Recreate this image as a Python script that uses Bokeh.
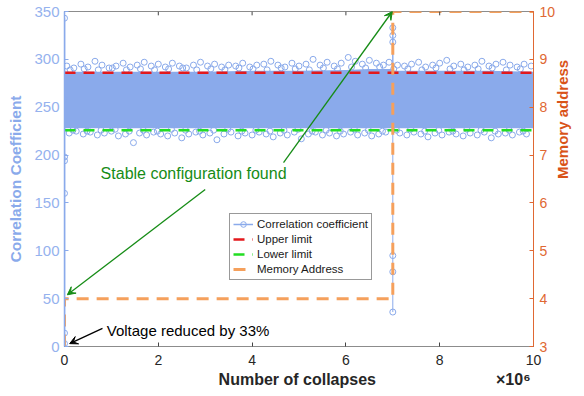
import math
from bokeh.plotting import figure
from bokeh.models import (Range1d, LinearAxis, FixedTicker, Label, Arrow, VeeHead,
                          Legend, LegendItem)
from bokeh.embed import file_html
from bokeh.resources import INLINE

# ---------------- data (x in units of 10^6 collapses) ----------------
x_ticks = [0, 2, 4, 6, 8, 10]
corr_ticks = [0, 50, 100, 150, 200, 250, 300, 350]
mem_ticks = [3, 4, 5, 6, 7, 8, 9, 10]
x_title = "Number of collapses"
x_exponent = "×10⁶"

# dense band of the correlation coefficient (envelope of the oscillation)
band_x = [0, 1, 2, 3, 4, 5, 6, 6.5, 6.95, 7.05, 8, 9, 10]
band_hi = [287, 287, 287, 287, 288, 288, 289, 290, 290, 288, 288, 288, 287]
band_lo = [228, 228, 228, 228, 228, 228, 228, 228, 228, 228, 228, 228, 228]

# outlying circles along the upper edge
top_x = [0.05, 0.2, 0.35, 0.5, 0.65, 0.8, 0.95, 1.1, 1.25, 1.4, 1.55, 1.7, 1.85, 2.0,
         2.15, 2.3, 2.45, 2.6, 2.75, 2.9, 3.05, 3.2, 3.35, 3.5, 3.65, 3.8, 3.95, 4.1,
         4.25, 4.4, 4.55, 4.7, 4.85, 5.0, 5.15, 5.3, 5.45, 5.6, 5.75, 5.9, 6.05, 6.2,
         6.35, 6.5, 6.65, 6.8, 6.92, 7.1, 7.25, 7.4, 7.55, 7.7, 7.85, 8.0, 8.15, 8.3,
         8.45, 8.6, 8.75, 8.9, 9.05, 9.2, 9.35, 9.5, 9.65, 9.8, 9.95]
top_y = [293, 291, 295, 292, 298, 294, 291, 293, 296, 292, 294, 297, 293, 295,
         292, 296, 293, 291, 294, 297, 293, 295, 292, 294, 293, 296, 292, 294,
         295, 298, 294, 292, 296, 293, 295, 300, 294, 297, 293, 296, 302, 298,
         295, 299, 296, 294, 297, 294, 293, 295, 297, 292, 294, 296, 299, 293,
         295, 292, 294, 298, 293, 295, 297, 294, 292, 295, 293]
# second, denser row of circles hugging the upper edge
top2_x = [0.12, 0.42, 0.72, 1.02, 1.32, 1.62, 1.92, 2.22, 2.52, 2.82, 3.12, 3.42,
          3.72, 4.02, 4.32, 4.62, 4.92, 5.22, 5.52, 5.82, 6.12, 6.42, 6.72, 7.02,
          7.32, 7.62, 7.92, 8.22, 8.52, 8.82, 9.12, 9.42, 9.72]
top2_y = [289, 290, 289, 291, 289, 290, 289, 290, 291, 289, 290, 289, 291, 290,
          289, 291, 290, 289, 291, 290, 292, 291, 292, 290, 290, 289, 291, 290,
          289, 290, 291, 289, 290]

# outlying circles along the lower edge
bot_x = [0.1, 0.25, 0.4, 0.55, 0.7, 0.85, 1.0, 1.15, 1.3, 1.47, 1.6, 1.75, 1.9, 2.05,
         2.2, 2.35, 2.5, 2.65, 2.8, 2.95, 3.1, 3.25, 3.4, 3.55, 3.7, 3.85, 4.0, 4.15,
         4.3, 4.45, 4.6, 4.75, 4.9, 5.05, 5.2, 5.35, 5.5, 5.65, 5.8, 5.95, 6.1, 6.25,
         6.4, 6.55, 6.7, 6.85, 7.15, 7.3, 7.45, 7.6, 7.75, 7.9, 8.05, 8.2, 8.35, 8.5,
         8.65, 8.8, 8.95, 9.1, 9.25, 9.4, 9.55, 9.7, 9.85]
bot_y = [223, 225, 222, 224, 221, 223, 225, 220, 222, 213, 223, 221, 224, 222,
         220, 223, 218, 222, 224, 221, 223, 216, 222, 224, 220, 223, 221, 224,
         222, 219, 223, 221, 224, 217, 222, 224, 221, 223, 220, 222, 224, 221,
         223, 220, 222, 224, 223, 221, 224, 222, 219, 223, 221, 224, 222, 220,
         223, 221, 224, 218, 222, 223, 221, 224, 222]
bot2_x = [0.18, 0.48, 0.78, 1.08, 1.38, 1.68, 1.98, 2.28, 2.58, 2.88, 3.18, 3.48,
          3.78, 4.08, 4.38, 4.68, 4.98, 5.28, 5.58, 5.88, 6.18, 6.48, 6.78, 7.08,
          7.38, 7.68, 7.98, 8.28, 8.58, 8.88, 9.18, 9.48, 9.78]
bot2_y = [226, 225, 226, 227, 225, 226, 225, 227, 226, 225, 226, 227, 225, 226,
          225, 226, 227, 225, 226, 225, 227, 226, 225, 226, 227, 225, 226, 225,
          227, 226, 225, 226, 225]

# sharp excursions of the correlation coefficient
spike0_x = [0, 0, 0, 0, 0, 0, 0, 0]
spike0_y = [258, 3, 14, 343, 160, 194, 198, 258]
spike7_x = [7, 7, 7, 7, 7, 7, 7]
spike7_y = [270, 333, 325, 318, 95, 78, 36]

upper_limit = 286
lower_limit = 226

mem_x = [0, 0, 7, 7, 10]
mem_y = [3, 4, 4, 10, 10]

# ---------------- styles ----------------
BLUE = "#8AAAEB"
BLUE_TXT = "#95B2EE"
ORANGE = "#F5A05C"
ORANGE_AX = "#E06833"
RED = "#E3191C"
GREEN = "#22DD22"
DGREEN = "#168C16"
FONT = "Liberation Sans"
NBSP = "\u00a0"

p = figure(width=584, height=396, output_backend="svg", toolbar_location=None,
           x_range=Range1d(0, 10), y_range=Range1d(0, 350),
           min_border_left=64, min_border_right=51, min_border_top=11,
           min_border_bottom=50)
p.extra_y_ranges = {"mem": Range1d(3, 10)}
p.xgrid.visible = False
p.ygrid.visible = False
p.outline_line_color = "#8C8C8C"
p.background_fill_color = "white"
p.border_fill_color = "white"

# band + circles
p.varea(x=band_x, y1=band_lo, y2=band_hi, fill_color=BLUE, fill_alpha=1.0)
for xs, ys in ((top_x, top_y), (top2_x, top2_y), (bot_x, bot_y), (bot2_x, bot2_y)):
    p.scatter(xs, ys, marker="circle", size=6, fill_color=None, line_color=BLUE,
              line_width=1)
r_line = p.line(spike0_x, spike0_y, line_color=BLUE, line_width=1.5)
p.line(spike7_x, spike7_y, line_color=BLUE, line_width=1)
r_pts = p.scatter(spike0_x, spike0_y, marker="circle", size=6, fill_color=None,
                  line_color=BLUE, line_width=1)
p.scatter(spike7_x, spike7_y, marker="circle", size=6, fill_color=None,
          line_color=BLUE, line_width=1)

r_up = p.line([0, 10], [upper_limit, upper_limit], line_color=RED, line_width=2.5,
              line_dash="11 8")
r_lo = p.line([0, 10], [lower_limit, lower_limit], line_color=GREEN, line_width=2.5,
              line_dash="11 8")
r_mem = p.line(mem_x, mem_y, y_range_name="mem", line_color=ORANGE, line_width=3,
               line_dash="12 8")

# top-edge ticks (box on, ticks inward)
p.segment(x0=x_ticks, y0=[350] * len(x_ticks), x1=x_ticks, y1=[346] * len(x_ticks),
          line_color="#444444", line_width=1)

# axes
xa = p.xaxis[0]
xa.ticker = FixedTicker(ticks=x_ticks)
# title centred under the frame, exponent pushed to the right end of the same row
xa.axis_label = NBSP * 34 + x_title + NBSP * 27 + x_exponent
xa.axis_label_text_font = FONT
xa.axis_label_text_font_style = "bold"
xa.axis_label_text_font_size = "16px"
xa.axis_label_text_color = "#262626"
xa.axis_label_standoff = 3
xa.major_label_text_font = FONT
xa.major_label_text_font_size = "14px"
xa.major_label_text_color = "#262626"
xa.major_label_standoff = 8
xa.axis_line_color = "#8C8C8C"
xa.major_tick_line_color = "#444444"
xa.major_tick_in = 4
xa.major_tick_out = 0
xa.minor_tick_line_color = None

ya = p.yaxis[0]
ya.ticker = FixedTicker(ticks=corr_ticks)
ya.axis_label = "Correlation Coefficient"
ya.axis_label_text_font = FONT
ya.axis_label_text_font_style = "bold"
ya.axis_label_text_font_size = "15.5px"
ya.axis_label_text_color = BLUE
ya.axis_label_standoff = 7
ya.major_label_text_font = FONT
ya.major_label_text_font_size = "15px"
ya.major_label_text_color = BLUE_TXT
ya.major_label_standoff = 5
ya.axis_line_color = BLUE
ya.axis_line_width = 1.5
ya.major_tick_line_color = BLUE
ya.major_tick_in = 4
ya.major_tick_out = 0
ya.minor_tick_line_color = None

ra = LinearAxis(y_range_name="mem", ticker=FixedTicker(ticks=mem_ticks))
ra.major_label_text_font = FONT
ra.major_label_text_font_size = "14px"
ra.major_label_text_color = ORANGE_AX
ra.major_label_standoff = 6
ra.axis_line_color = ORANGE_AX
ra.major_tick_line_color = ORANGE_AX
ra.major_tick_in = 4
ra.major_tick_out = 0
ra.minor_tick_line_color = None
ra.axis_label = "Memory address"
ra.axis_label_text_font = FONT
ra.axis_label_text_font_style = "bold"
ra.axis_label_text_font_size = "15px"
ra.axis_label_text_color = "#D95319"
ra.axis_label_standoff = 4
if "axis_label_orientation" in ra.properties():
    ra.axis_label_orientation = math.pi / 2
p.add_layout(ra, "right")

# annotations
p.add_layout(Label(x=0.77, y=181, text="Stable configuration found", text_font=FONT,
                   text_font_size="16px", text_color=DGREEN, text_baseline="middle"))
p.add_layout(Label(x=0.9, y=17, text="Voltage reduced by 33%", text_font=FONT,
                   text_font_size="15px", text_color="black", text_baseline="middle"))
p.add_layout(Arrow(end=VeeHead(size=8, fill_color=DGREEN, line_color=DGREEN),
                   x_start=3.0, y_start=164, x_end=0.06, y_end=54,
                   line_color=DGREEN, line_width=1.3))
p.add_layout(Arrow(end=VeeHead(size=8, fill_color=DGREEN, line_color=DGREEN),
                   x_start=4.67, y_start=192, x_end=6.99, y_end=350,
                   line_color=DGREEN, line_width=1.3))
p.add_layout(Arrow(end=VeeHead(size=8, fill_color="black", line_color="black"),
                   x_start=0.81, y_start=19, x_end=0.11, y_end=3,
                   line_color="black", line_width=1.3))

# legend
legend = Legend(items=[
    LegendItem(label="Correlation coefficient", renderers=[r_line, r_pts]),
    LegendItem(label="Upper limit", renderers=[r_up]),
    LegendItem(label="Lower limit", renderers=[r_lo]),
    LegendItem(label="Memory Address", renderers=[r_mem]),
], location=(165, 66))
legend.label_text_font = FONT
legend.label_text_font_size = "11.5px"
legend.label_text_color = "#1a1a1a"
legend.glyph_width = 20
legend.glyph_height = 14
legend.label_height = 14
legend.label_standoff = 4
legend.spacing = 1
legend.padding = 3
legend.margin = 0
legend.border_line_color = "#333333"
legend.border_line_width = 1
legend.background_fill_color = "white"
legend.background_fill_alpha = 1.0
p.add_layout(legend, "center")

open("out.html", "w").write(file_html(p, INLINE))
